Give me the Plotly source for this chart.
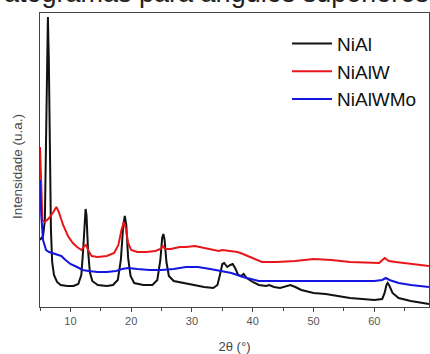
import plotly.graph_objects as go

# NiAl (black)
niAl_x = [5.0, 5.5, 5.8, 6.0, 6.15, 6.3, 6.45, 6.6, 6.8, 7.0, 7.3, 7.8, 8.4, 9.5, 10.5, 11.3, 11.8, 12.1, 12.35, 12.5,
          12.65, 12.9, 13.2, 13.6, 14.5, 16.0, 17.0, 17.8, 18.3, 18.7, 18.95, 19.2, 19.5, 19.9, 20.5, 22.0, 23.5, 24.3,
          24.8, 25.1, 25.3, 25.5, 25.8, 26.2, 27.0, 28.5, 30.0, 32.0, 33.5, 34.2, 34.6, 35.0, 35.3, 35.8, 36.3, 36.7,
          37.1, 37.6, 38.1, 38.5, 39.0, 40.0, 41.0, 42.2, 42.7, 43.5, 44.5, 45.5, 46.2, 47.0, 48.0, 50.0, 52.0, 54.0,
          56.0, 58.0, 60.0, 61.3, 61.7, 62.0, 62.2, 62.5, 63.0, 64.0, 66.0, 68.0, 69.0]
niAl_y = [67, 71, 87, 157, 247, 290, 247, 157, 77, 45, 32, 25, 22, 21, 21, 23, 32, 57, 92, 98,
          92, 57, 35, 26, 22, 21, 22, 27, 47, 82, 91, 82, 49, 31, 24, 22, 22, 27,
          47, 69, 73, 67, 45, 31, 26, 24, 22, 20, 19, 22, 32, 43, 44, 40, 42, 43,
          39, 32, 31, 33, 29, 25, 22, 21, 22, 20, 19, 21, 22, 20, 17, 14, 13, 11,
          9, 8, 7, 8, 14, 22, 24, 21, 14, 9, 6, 4, 3]

# NiAlW (red)
niAlW_x = [5.0, 5.2, 5.4, 5.8, 6.5, 7.2, 7.7, 8.1, 8.8, 9.6, 10.4, 11.1, 11.8, 12.3, 12.6, 12.9, 13.5, 14.5, 16.0, 17.2,
           17.9, 18.4, 18.8, 19.1, 19.5, 20.0, 21.0, 22.5, 24.0, 24.8, 25.2, 25.6, 26.5, 28.0, 29.0, 30.5, 32.0, 33.5,
           34.4, 35.0, 36.0, 37.5, 38.4, 39.5, 40.5, 41.5, 44.0, 47.0, 50.0, 53.0, 56.0, 59.0, 60.8, 61.7, 62.4, 63.5,
           65.0, 67.0, 69.0]
niAlW_y = [160, 107, 87, 85, 89, 95, 100, 95, 82, 71, 64, 60, 57, 61, 62, 57, 51, 50, 51, 54,
           62, 77, 85, 79, 64, 57, 55, 55, 56, 58, 61, 58, 58, 60, 60, 61, 59, 57,
           56, 57, 56, 55, 53, 50, 47, 45, 45, 46, 48, 47, 45, 44, 44, 49, 46, 45,
           44, 42, 41]

# NiAlWMo (blue)
niAlWMo_x = [5.0, 5.2, 5.5, 6.0, 6.5, 7.5, 8.5, 9.2, 10.0, 11.1, 12.0, 13.0, 14.5, 16.0, 17.5, 18.5, 19.5, 21.0, 23.0,
             25.0, 27.0, 29.0, 31.0, 33.0, 35.0, 36.5, 38.4, 39.5, 41.0, 45.0, 50.0, 55.0, 60.0, 61.3, 61.9, 62.5,
             64.0, 66.0, 69.0]
niAlWMo_y = [127, 92, 67, 57, 55, 53, 51, 47, 43, 40, 37, 36, 35, 35, 36, 38, 39, 38, 37,
             37, 38, 40, 40, 38, 36, 34, 30, 28, 26, 26, 26, 26, 26, 27, 29, 27,
             24, 22, 20]

tick_vals = [10, 20, 30, 40, 50, 60]
tick_text = ["10", "20", "30", "40", "50", "60"]

fig = go.Figure()
fig.add_trace(go.Scatter(x=niAl_x, y=niAl_y, mode="lines", name="NiAl",
                         line=dict(color="#111111", width=2)))
fig.add_trace(go.Scatter(x=niAlW_x, y=niAlW_y, mode="lines", name="NiAlW",
                         line=dict(color="#e8161b", width=2)))
fig.add_trace(go.Scatter(x=niAlWMo_x, y=niAlWMo_y, mode="lines", name="NiAlWMo",
                         line=dict(color="#1515e0", width=2)))

fig.update_layout(
    width=430, height=354,
    margin=dict(l=40, r=1, t=13, b=47),
    paper_bgcolor="white", plot_bgcolor="white",
    font=dict(family="Liberation Sans, Arial, sans-serif", color="#333333"),
    showlegend=True,
    legend=dict(x=0.635, y=0.96, xanchor="left", yanchor="top",
                font=dict(size=19, color="#111111"), bgcolor="rgba(0,0,0,0)",
                tracegroupgap=0, itemwidth=40),
    annotations=[
        dict(text="Difratogramas para ângulos superiores", xref="paper", yref="paper",
             x=0.401, y=1.01, xanchor="center", yanchor="bottom", showarrow=False,
             font=dict(size=27, color="#222222")),
        dict(text="Intensidade (u.a.)", xref="paper", yref="paper", textangle=-90,
             x=-0.059, y=0.476, xanchor="center", yanchor="middle", showarrow=False,
             font=dict(size=13.5, color="#444444")),
    ],
)
fig.update_xaxes(range=[5, 69], tickvals=tick_vals, ticktext=tick_text,
                 ticks="outside", ticklen=4, tickcolor="#444444",
                 minor=dict(dtick=5, tick0=5, ticks="outside", ticklen=3, tickcolor="#444444"),
                 showline=True, mirror=True, linecolor="#444444", linewidth=1,
                 showgrid=False, zeroline=False,
                 tickfont=dict(size=11, color="#555555"),
                 title=dict(text="2θ (°)", font=dict(size=13, color="#444444"), standoff=15))
fig.update_yaxes(range=[0, 294], showticklabels=False, ticks="",
                 showline=True, mirror=True, linecolor="#444444", linewidth=1,
                 showgrid=False, zeroline=False)

fig.write_html("out.html", config={"displayModeBar": False},
               post_script="document.body.style.margin='0';document.body.style.overflow='hidden';")
